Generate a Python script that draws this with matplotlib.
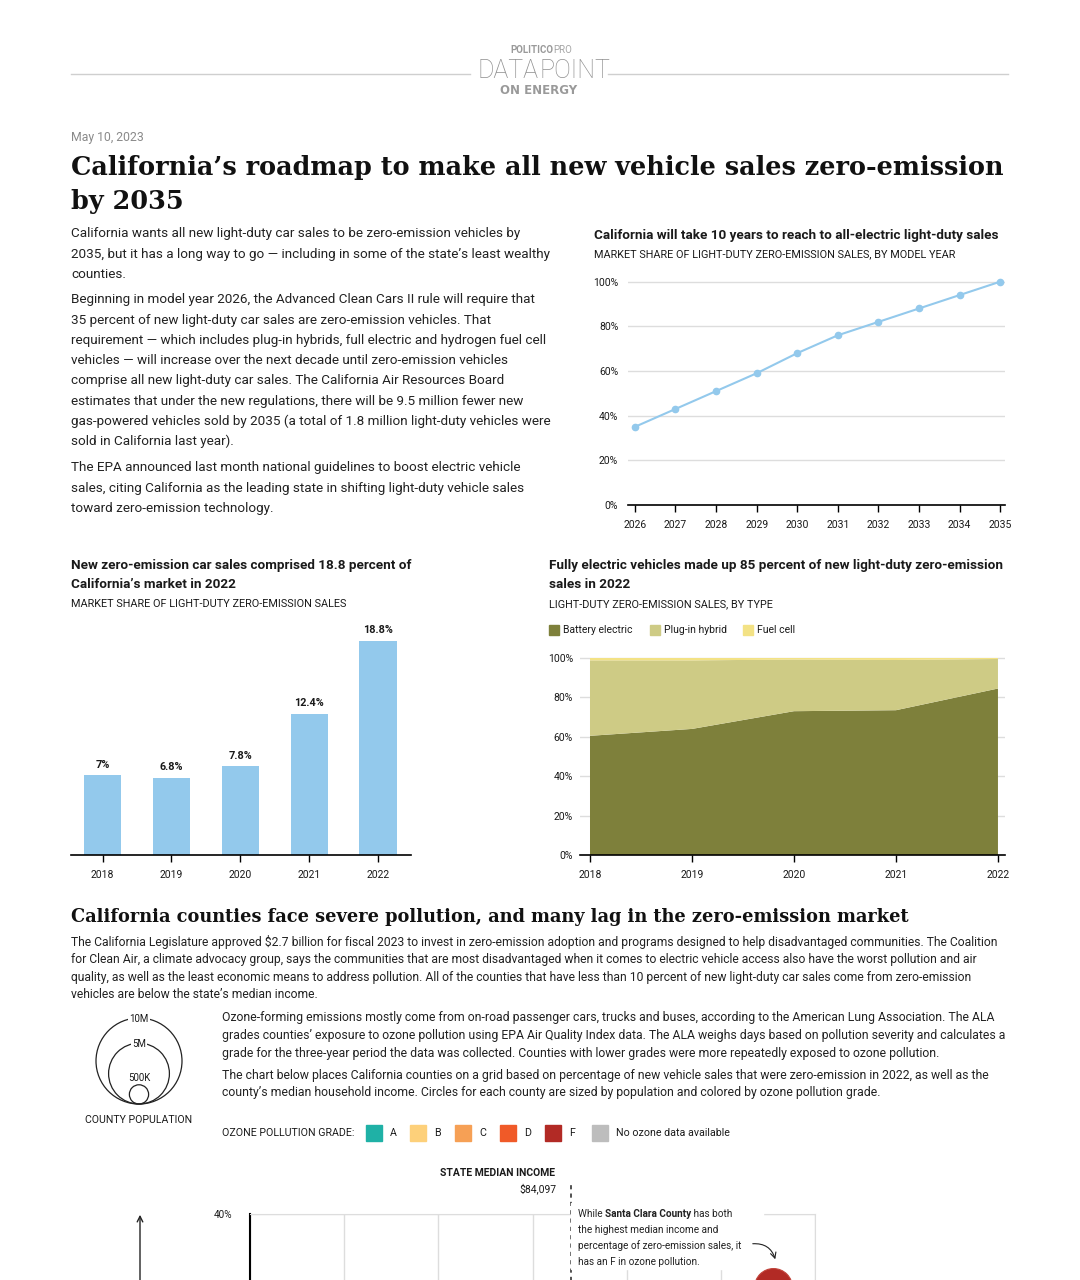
import numpy as np
import matplotlib.pyplot as plt
from matplotlib.patches import Rectangle, Circle

# ---- data ----
target_years = [2026, 2027, 2028, 2029, 2030, 2031, 2032, 2033, 2034, 2035]
target_share = [35, 43, 51, 59, 68, 76, 82, 88, 94, 100]

sales_years = [2018, 2019, 2020, 2021, 2022]
zev_share = [7.0, 6.8, 7.8, 12.4, 18.8]
zev_labels = ['7%', '6.8%', '7.8%', '12.4%', '18.8%']

type_years = [2018, 2019, 2020, 2021, 2022]
battery = [60.5, 64.0, 73.0, 73.5, 84.5]
plugin = [38.3, 34.8, 26.2, 25.5, 15.0]
fuelcell = [1.2, 1.2, 0.8, 1.0, 0.5]
type_names = ['Battery electric', 'Plug-in hybrid', 'Fuel cell']

legend_pops = [10e6, 5e6, 5e5]
legend_pop_labels = ['10M', '5M', '500K']

grade_names = ['A', 'B', 'C', 'D', 'F', 'No ozone data available']
grade_colors = ['#1fb1a6', '#fdd07a', '#f6a055', '#f05a28', '#b22a25', '#bdbdbd']

county_names = ['Santa Clara']
county_income = [105500]
county_zev = [32.7]
county_pop = [1.94e6]
county_grade = ['F']

income_ticks = [50000, 60000, 70000, 80000, 90000, 100000, 110000]
share_ticks = [0, 10, 20, 30, 40]
state_median = 84097

BLUE = '#93c9ec'
TYPE_COLORS = ['#7e803b', '#cecb85', '#f3e285']
SANS = 'Roboto'
SERIF = 'DejaVu Serif'
INK = '#1a1a1a'

W, H = 1080, 1280
fig = plt.figure(figsize=(W / 100, H / 100), dpi=100)
fig.patch.set_facecolor('white')


def rect(left, top, right, bottom):
    return [left / W, 1 - bottom / H, (right - left) / W, (bottom - top) / H]


def pop_radius(p):
    # pixels, area proportional to population (10M -> 43 px)
    return 43 * np.sqrt(p / 1e7)


def style_ticks(ax, size=7.5):
    for lab in ax.get_xticklabels() + ax.get_yticklabels():
        lab.set_fontfamily(SANS)
        lab.set_fontsize(size)
        lab.set_color(INK)


# ---- line chart: target share ----
ax1 = fig.add_axes(rect(628, 275, 1005, 505))
ax1.plot(target_years, target_share, color=BLUE, lw=1.5, marker='o', ms=4.5, clip_on=False, zorder=3)
ax1.set_xlim(2025.83, 2035.12)
ax1.set_ylim(0, 103)
ax1.set_xticks(target_years)
ax1.set_yticks(range(0, 101, 20))
ax1.set_yticklabels([f'{v}%' for v in range(0, 101, 20)])
ax1.grid(axis='y', color='#dddddd', lw=1)
ax1.set_axisbelow(True)
for s in ['top', 'right', 'left']:
    ax1.spines[s].set_visible(False)
ax1.spines['bottom'].set_linewidth(1.2)
ax1.tick_params(axis='x', length=5, width=1, pad=6)
ax1.tick_params(axis='y', length=0, pad=7)
style_ticks(ax1)

# ---- bar chart: ZEV share ----
ax2 = fig.add_axes(rect(71, 620, 411, 855))
ax2.bar(range(len(sales_years)), zev_share, width=0.54, color=BLUE)
for i, (v, lab) in enumerate(zip(zev_share, zev_labels)):
    ax2.text(i, v + 0.5, lab, ha='center', va='bottom', fontsize=7.8, fontweight='bold',
             fontfamily=SANS, color=INK)
ax2.set_xlim(-0.46, 4.48)
ax2.set_ylim(0, 20.65)
ax2.set_xticks(range(len(sales_years)))
ax2.set_xticklabels([str(y) for y in sales_years])
ax2.set_yticks([])
for s in ['top', 'right', 'left']:
    ax2.spines[s].set_visible(False)
ax2.spines['bottom'].set_linewidth(1.2)
ax2.tick_params(axis='x', length=5, width=1, pad=6)
style_ticks(ax2)

# ---- stacked area: ZEV sales by type ----
ax3 = fig.add_axes(rect(580, 650, 1005, 855))
ax3.stackplot(type_years, battery, plugin, fuelcell, colors=TYPE_COLORS, lw=0)
ax3.set_xlim(2017.902, 2022.069)
ax3.set_ylim(0, 104.06)
ax3.set_xticks(type_years)
ax3.set_yticks(range(0, 101, 20))
ax3.set_yticklabels([f'{v}%' for v in range(0, 101, 20)])
ax3.grid(axis='y', color='#dddddd', lw=1)
ax3.set_axisbelow(True)
for s in ['top', 'right', 'left']:
    ax3.spines[s].set_visible(False)
ax3.spines['bottom'].set_linewidth(1.2)
ax3.tick_params(axis='x', length=5, width=1, pad=6)
ax3.tick_params(axis='y', length=0, pad=5)
style_ticks(ax3)

# ---- county grid (cut off at bottom of page) ----
ax4 = fig.add_axes(rect(250, 1214, 815, 1614))
ax4.set_xlim(income_ticks[0], income_ticks[-1])
ax4.set_ylim(0, 40)
ax4.set_xticks(income_ticks)
ax4.set_xticklabels([])
ax4.set_yticks(share_ticks)
# only the top label lies on the page
ax4.set_yticklabels([f'{v}%' if v == share_ticks[-1] else '' for v in share_ticks])
ax4.grid(color='#dddddd', lw=1)
ax4.set_axisbelow(True)
ax4.spines['left'].set_linewidth(1.5)
ax4.spines['left'].set_color('black')
for s in ['top', 'right', 'bottom']:
    ax4.spines[s].set_color('#dddddd')
ax4.tick_params(length=0)
ax4.tick_params(axis='y', pad=13)
style_ticks(ax4, 7.2)
ax4.plot([state_median, state_median], [0, 43.1], color='#333333', lw=1.2,
         ls=(0, (2.5, 2.5)), clip_on=False, zorder=4)
gmap = dict(zip(grade_names, grade_colors))
sizes = [(2 * pop_radius(p) * 0.72) ** 2 for p in county_pop]
ax4.scatter(county_income, county_zev, s=sizes, c=[gmap[g] for g in county_grade],
            edgecolors='#c2453c', linewidths=0.8, zorder=5, clip_on=False)

# ---- overlay for text and decorations, in pixel coordinates ----
ov = fig.add_axes([0, 0, 1, 1])
ov.set_xlim(0, W)
ov.set_ylim(H, 0)
ov.axis('off')
ov.patch.set_alpha(0)


def txt(x, y, s, size=9, weight='normal', color=INK, family=SANS, **kw):
    kw.setdefault('va', 'center')
    return ov.text(x, y, s, fontsize=size, fontweight=weight, color=color,
                   fontfamily=family, **kw)


# header
ov.plot([71, 470], [74, 74], color='#cfcfcf', lw=1)
ov.plot([608, 1008], [74, 74], color='#cfcfcf', lw=1)
txt(553, 50, 'POLITICO', size=7, weight='bold', color='#9a9a9a', ha='right')
txt(553, 50, 'PRO', size=7, color='#a5a5a5', ha='left')
txt(539, 71, 'DATA', size=18, weight='light', color='#8e8e8e', ha='right')
txt(539, 71, 'POINT', size=18, weight='light', color='#8e8e8e', ha='left')
txt(539, 91, 'ON ENERGY', size=8.5, weight='bold', color='#9a9a9a', ha='center', family='DejaVu Sans')

txt(71, 138, 'May 10, 2023', size=8.8, color='#8a8a8a')
txt(71, 168, 'California’s roadmap to make all new vehicle sales zero-emission', size=18.4,
    weight='bold', family=SERIF, color='#111111')
txt(71, 201, 'by 2035', size=18.4, weight='bold', family=SERIF, color='#111111')

p1 = ["California wants all new light-duty car sales to be zero-emission vehicles by",
      "2035, but it has a long way to go — including in some of the state’s least wealthy",
      "counties."]
p2 = ["Beginning in model year 2026, the Advanced Clean Cars II rule will require that",
      "35 percent of new light-duty car sales are zero-emission vehicles. That",
      "requirement — which includes plug-in hybrids, full electric and hydrogen fuel cell",
      "vehicles — will increase over the next decade until zero-emission vehicles",
      "comprise all new light-duty car sales. The California Air Resources Board",
      "estimates that under the new regulations, there will be 9.5 million fewer new",
      "gas-powered vehicles sold by 2035 (a total of 1.8 million light-duty vehicles were",
      "sold in California last year)."]
p3 = ["The EPA announced last month national guidelines to boost electric vehicle",
      "sales, citing California as the leading state in shifting light-duty vehicle sales",
      "toward zero-emission technology."]
for start, lines in [(234, p1), (300, p2), (468, p3)]:
    for i, line in enumerate(lines):
        txt(71, start + 20.2 * i, line, size=9.7, color='#222222')

# chart titles
TS, SS = 9.7, 7.8
txt(594, 236, 'California will take 10 years to reach to all-electric light-duty sales', size=TS, weight='bold')
txt(594, 254, 'MARKET SHARE OF LIGHT-DUTY ZERO-EMISSION SALES, BY MODEL YEAR', size=SS)

txt(71, 566, 'New zero-emission car sales comprised 18.8 percent of', size=TS, weight='bold')
txt(71, 585, 'California’s market in 2022', size=TS, weight='bold')
txt(71, 604, 'MARKET SHARE OF LIGHT-DUTY ZERO-EMISSION SALES', size=SS)

txt(549, 566, 'Fully electric vehicles made up 85 percent of new light-duty zero-emission', size=TS, weight='bold')
txt(549, 585, 'sales in 2022', size=TS, weight='bold')
txt(549, 604, 'LIGHT-DUTY ZERO-EMISSION SALES, BY TYPE', size=SS)
for xs, name, col in zip([549, 650, 743], type_names, TYPE_COLORS):
    ov.add_patch(Rectangle((xs, 625), 10, 10, color=col))
    txt(xs + 14, 630, name, size=7.5)

# section 2
txt(71, 917, 'California counties face severe pollution, and many lag in the zero-emission market',
    size=12.8, weight='bold', family=SERIF, color='#111111')
s2 = ["The California Legislature approved \\$2.7 billion for fiscal 2023 to invest in zero-emission adoption and programs designed to help disadvantaged communities. The Coalition",
      "for Clean Air, a climate advocacy group, says the communities that are most disadvantaged when it comes to electric vehicle access also have the worst pollution and air",
      "quality, as well as the least economic means to address pollution. All of the counties that have less than 10 percent of new light-duty car sales come from zero-emission",
      "vehicles are below the state’s median income."]
for i, line in enumerate(s2):
    txt(71, 942 + 17.6 * i, line, size=8.75, color='#222222')

s3 = ["Ozone-forming emissions mostly come from on-road passenger cars, trucks and buses, according to the American Lung Association. The ALA",
      "grades counties’ exposure to ozone pollution using EPA Air Quality Index data. The ALA weighs days based on pollution severity and calculates a",
      "grade for the three-year period the data was collected. Counties with lower grades were more repeatedly exposed to ozone pollution."]
s4 = ["The chart below places California counties on a grid based on percentage of new vehicle sales that were zero-emission in 2022, as well as the",
      "county’s median household income. Circles for each county are sized by population and colored by ozone pollution grade."]
for start, lines in [(1018, s3), (1075, s4)]:
    for i, line in enumerate(lines):
        txt(222, start + 17.5 * i, line, size=8.8, color='#222222')

# population legend
base_y = 1104
for p, lab in zip(legend_pops, legend_pop_labels):
    r = pop_radius(p)
    ov.add_patch(Circle((139, base_y - r), r, fill=False, ec='#222222', lw=0.9))
for p, lab in zip(legend_pops[:2], legend_pop_labels[:2]):
    r = pop_radius(p)
    txt(139, base_y - 2 * r + 1, lab, size=7, ha='center',
        bbox=dict(fc='white', ec='none', pad=0.8))
txt(139, base_y - 2 * pop_radius(legend_pops[2]) - 7, legend_pop_labels[2], size=7, ha='center')
txt(139, 1120, 'COUNTY POPULATION', size=7.6, ha='center')

# ozone grade legend
txt(222, 1133, 'OZONE POLLUTION GRADE:', size=7.7)
for xs, name, col in zip([366, 410, 455, 500, 545, 592], grade_names, grade_colors):
    ov.add_patch(Rectangle((xs, 1125), 16, 16, color=col))
    txt(xs + 24, 1133, name, size=7.7)

# county grid labels
txt(498, 1173, 'STATE MEDIAN INCOME', size=7.5, weight='bold', ha='center')
txt(557, 1189, f'\\${state_median:,}', size=7.5, ha='right')
ov.annotate('', xy=(140, 1212), xytext=(140, 1285),
            arrowprops=dict(arrowstyle='->', lw=1, color='#222222'))

# annotation with white box to break the grid
ov.add_patch(Rectangle((571, 1203), 192, 66, color='white', zorder=2))
renderer = fig.canvas.get_renderer()
x = 578
for s, w in [('While ', 'normal'), ('Santa Clara County', 'bold'), (' has both', 'normal')]:
    t = txt(x, 1214, s, size=7.2, weight=w, color='#222222', zorder=3)
    x += t.get_window_extent(renderer=renderer).width
for i, line in enumerate(['the highest median income and',
                          'percentage of zero-emission sales, it',
                          'has an F in ozone pollution.']):
    txt(578, 1230 + 16 * i, line, size=7.2, color='#222222', zorder=3)
ov.annotate('', xy=(776, 1262), xytext=(750, 1244),
            arrowprops=dict(arrowstyle='->', lw=0.8, color='#222222',
                            connectionstyle='arc3,rad=-0.45'), zorder=3)

fig.savefig('out.png', dpi=100)
